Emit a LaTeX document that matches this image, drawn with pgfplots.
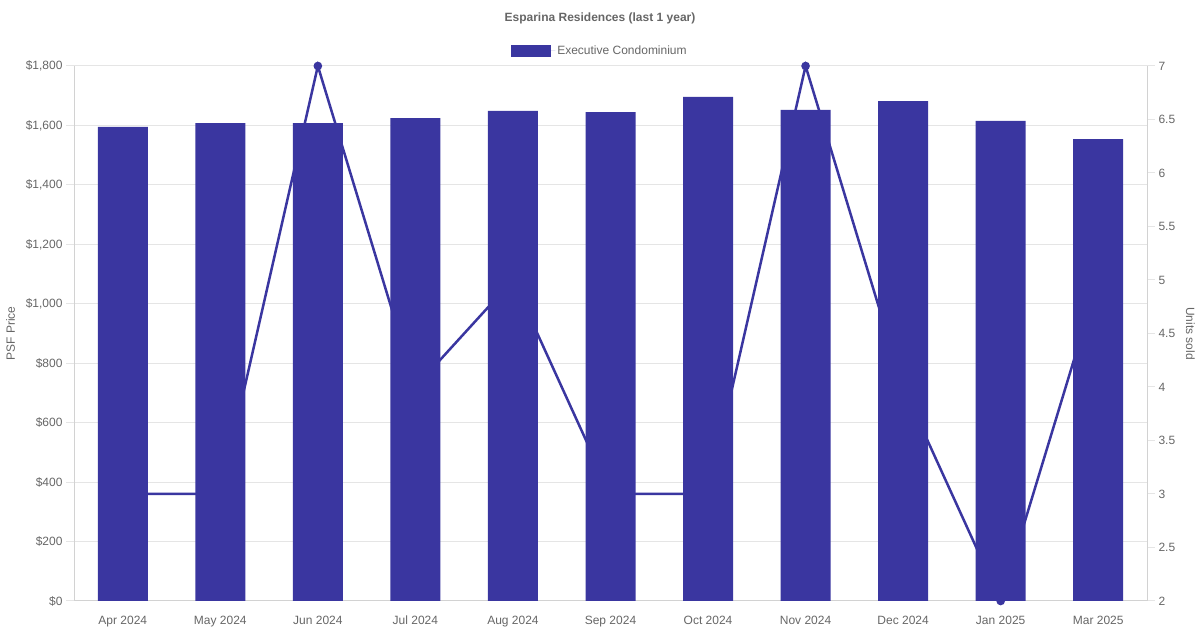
\documentclass[border=0pt]{standalone}
\usepackage{pgfplots}
\pgfplotsset{compat=1.18}
\usepackage{fontspec}
\setmainfont{Liberation Sans}

\definecolor{ec}{RGB}{58,54,160}
\definecolor{txt}{RGB}{102,102,102}
\definecolor{gridc}{RGB}{229,229,229}
\definecolor{axc}{RGB}{210,210,210}
\newcommand\f{\fontsize{12}{14}\selectfont}

\pgfplotsset{
  base/.style={
    set layers,
    scale only axis, width=1073pt, height=535pt,
    at={(74pt,29pt)}, anchor=south west,
    xmin=-0.5, xmax=10.5,
    tick align=outside, major tick length=8pt,
    axis line style={axc, line width=1pt},
    y tick style={gridc, line width=1pt},
    tick label style={font=\f, text=txt},
    label style={font=\f, text=txt},
    /pgf/number format/assume math mode=true,
  },
}

\begin{document}
\begin{tikzpicture}
\path (0,0) rectangle (1200pt,630pt);

% units sold, right axis (drawn under the bars)
\begin{axis}[base,
    axis y line*=right, axis x line=none,
    ymin=2, ymax=7, ytick={2,2.5,...,7},
    clip=false,
    ylabel={Units sold},
    ylabel style={rotate=180, yshift=4pt},
  ]
  \addplot[ec, line width=2.5pt, mark=*, mark size=3pt] coordinates {
    (0,3) (1,3) (2,7) (3,4) (4,5) (5,3) (6,3) (7,7) (8,4) (9,2) (10,5)
  };
\end{axis}

% PSF price, left axis
\begin{axis}[base,
    axis y line*=left, axis x line*=bottom,
    ymin=0, ymax=1800, ytick={0,200,...,1800},
    yticklabels={{\$0},{\$200},{\$400},{\$600},{\$800},{\$1,000},{\$1,200},{\$1,400},{\$1,600},{\$1,800}},
    xtick={0,...,10},
    xticklabels={Apr 2024,May 2024,Jun 2024,Jul 2024,Aug 2024,Sep 2024,Oct 2024,Nov 2024,Dec 2024,Jan 2025,Mar 2025},
    x tick style={draw=none},
    xticklabel style={text height=9pt, text depth=3pt, yshift=-3pt},
    ymajorgrids, grid style={gridc, line width=1pt},
    ylabel={PSF Price},
    ylabel style={yshift=4pt},
    legend style={at={(axis description cs:0.5,1)}, anchor=center,
      xshift=-10.5pt, yshift=15pt, draw=none, fill=none, font=\f, text=txt},
    legend image code/.code={\fill[ec] (0pt,-6pt) rectangle (40pt,6pt); \path (0pt,0pt) -- (44pt,0pt);},
  ]
  \addplot[ybar, bar width=50pt, fill=ec, draw=none] coordinates {
    (0,1595) (1,1608) (2,1608) (3,1625) (4,1649) (5,1645)
    (6,1696) (7,1652) (8,1682) (9,1615) (10,1554)
  };
  \addlegendentry{Executive Condominium}
\end{axis}

\node[font=\f\bfseries, text=txt] at (600pt,612pt) {Esparina Residences (last 1 year)};
\end{tikzpicture}
\end{document}
